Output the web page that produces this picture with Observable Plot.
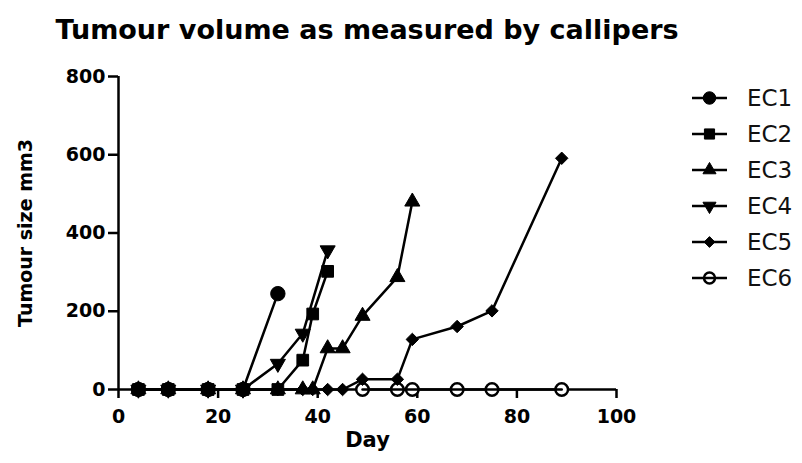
<!DOCTYPE html>
<html><head><meta charset="utf-8">
<script src="https://cdn.jsdelivr.net/npm/d3@7"></script>
<script src="https://cdn.jsdelivr.net/npm/@observablehq/plot@0.6"></script>
<style>
body{margin:0;background:#fff;}
#chart{position:relative;width:802px;height:463px;font-family:"DejaVu Sans",sans-serif;}
#legend{position:absolute;left:0;top:0;}
</style></head><body><div id="chart"></div>
<script>
// shared Day column and series values (null = no measurement)
const days = [4,10,18,25,32,37,39,42,45,49,56,59,68,75,89];
const seriesNames = ["EC1","EC2","EC3","EC4","EC5","EC6"];
const ec1 = [0,0,0,0,245];
const ec2 = [0,0,0,0,0,75,193,302];
const ec3 = [0,0,0,0,0,0,0,105,105,188,287,480];
const ec4 = [0,0,0,0,66,143,null,356];
const ec5 = [0,0,0,0,0,0,0,0,0,26,26,128,161,201,591];
const ec6 = [null,null,null,null,null,null,null,null,null,0,0,0,0,0,0];
const xTicks = [0,20,40,60,80,100];
const yTicks = [0,200,400,600,800];
const titleText = "Tumour volume as measured by callipers";
const xLabel = "Day";
const yLabel = "Tumour size mm3";

const seriesValues = [ec1,ec2,ec3,ec4,ec5,ec6];

const triangleDown = {
  draw(ctx, size) {
    const p = {moveTo:(x,y)=>ctx.moveTo(x,-y), lineTo:(x,y)=>ctx.lineTo(x,-y), closePath:()=>ctx.closePath()};
    d3.symbolTriangle.draw(p, size);
  }
};
const symbolSpec = {
  EC1: {symbol:"circle", r:7.2, fill:"black"},
  EC2: {symbol:"square", r:6.6, fill:"black"},
  EC3: {symbol:"triangle", r:5.6, fill:"black"},
  EC4: {symbol:triangleDown, r:5.6, fill:"black"},
  EC5: {symbol:"diamond2", r:5.6, fill:"black"},
  EC6: {symbol:"circle", r:6.3, fill:"white", open:true}
};

function rowsFor(i) {
  const vals = seriesValues[i];
  return days.map((d,j)=>({day:d, v:vals[j], s:seriesNames[i]})).filter(r=>r.v!=null);
}

const marks = [
  Plot.ruleX([0], {stroke:"black", strokeWidth:2.5}),
  Plot.ruleY([0], {stroke:"black", strokeWidth:2.5}),
  Plot.axisY({ticks:yTicks, tickSize:10, tickPadding:3, strokeWidth:2.5, label:null, fontSize:19, fontWeight:"bold"}),
  Plot.axisX({ticks:xTicks, tickSize:9, tickPadding:11, strokeWidth:2.5, label:null, fontSize:19, fontWeight:"bold"}),
  Plot.text([xLabel], {frameAnchor:"bottom", dy:57, fontSize:21, fontWeight:"bold", fill:"black"}),
  Plot.text([yLabel], {frameAnchor:"left", textAnchor:"middle", rotate:-90, dx:-93, fontSize:19, fontWeight:"bold", fill:"black"}),
  Plot.text([titleText], {frameAnchor:"top-left", textAnchor:"start", lineAnchor:"bottom", dx:-63, dy:-38, fontSize:27, fontWeight:"bold", fill:"black"})
];
for (let i = seriesNames.length - 1; i >= 0; i--) {
  const name = seriesNames[i];
  const data = rowsFor(i);
  const sp = symbolSpec[name];
  const line = Plot.line(data, {x:"day", y:"v", stroke:"black", strokeWidth:2.5});
  if (sp.open) {
    marks.push(Plot.dot(data, {x:"day", y:"v", symbol:sp.symbol, r:sp.r, fill:"white", stroke:"black", strokeWidth:2.5}), line);
  } else {
    marks.push(line, Plot.dot(data, {x:"day", y:"v", symbol:sp.symbol, r:sp.r, fill:"black", stroke:"black", strokeWidth:1}));
  }
}

const plot = Plot.plot({
  width:802, height:463,
  marginLeft:118, marginRight:186, marginTop:76, marginBottom:74,
  x:{domain:[0,100]},
  y:{domain:[0,800]},
  style:{fontFamily:"DejaVu Sans, sans-serif", color:"black", background:"white", overflow:"visible"},
  marks
});
const chart = document.getElementById("chart");
chart.appendChild(plot);

// legend
const lg = d3.select(chart).append("svg").attr("id","legend").attr("width",802).attr("height",463);
seriesNames.forEach((name,i)=>{
  const cy = 98 + i*36;
  const g = lg.append("g");
  g.append("line").attr("x1",692).attr("x2",727).attr("y1",cy).attr("y2",cy).attr("stroke","black").attr("stroke-width",2.5);
  const sp = symbolSpec[name];
  const symType = typeof sp.symbol === "string" ? ({circle:d3.symbolCircle,square:d3.symbolSquare,triangle:d3.symbolTriangle,diamond2:d3.symbolDiamond2})[sp.symbol] : sp.symbol;
  const path = d3.symbol(symType, Math.PI*sp.r*sp.r*0.75)();
  if (sp.open) {
    g.append("path").attr("d",path).attr("transform",`translate(709.5,${cy})`).attr("fill","white").attr("stroke","black").attr("stroke-width",2.5);
    g.append("line").attr("x1",703).attr("x2",716).attr("y1",cy).attr("y2",cy).attr("stroke","black").attr("stroke-width",2.5);
  } else {
    g.append("path").attr("d",path).attr("transform",`translate(709.5,${cy})`).attr("fill","black").attr("stroke","black").attr("stroke-width",1);
  }
  g.append("text").attr("x",747).attr("y",cy).attr("dy","0.36em").attr("font-size",23).attr("font-family","DejaVu Sans, sans-serif").attr("fill","#111").text(name);
});
</script></body></html>
